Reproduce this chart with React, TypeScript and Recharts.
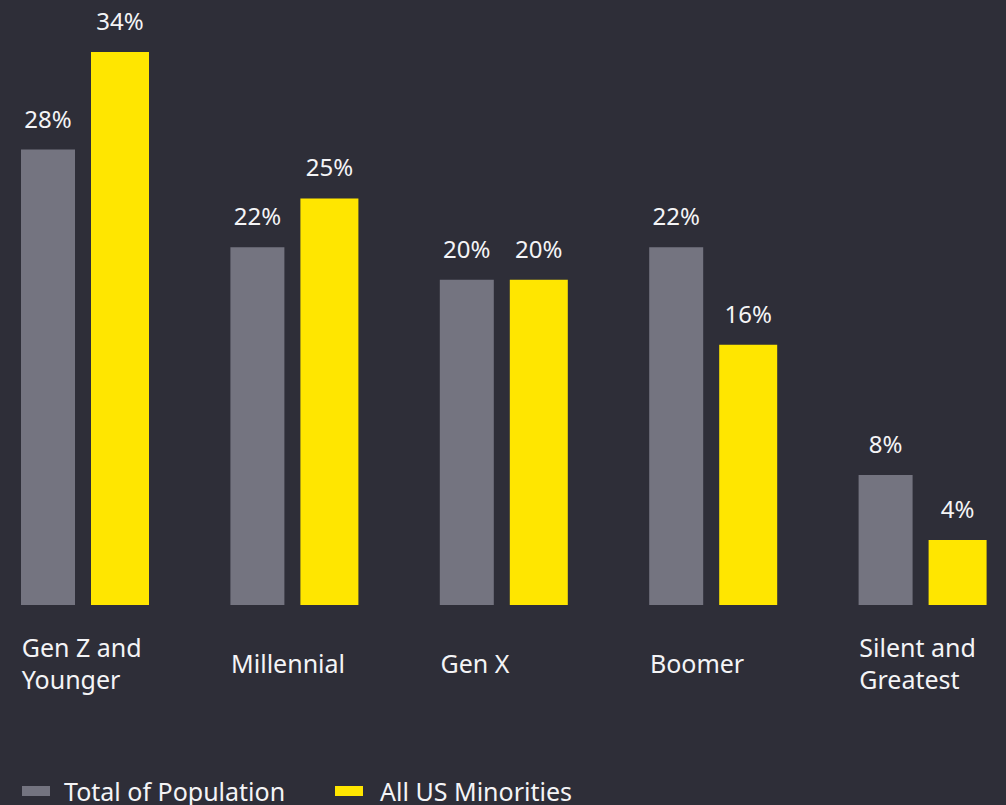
import { BarChart, Bar, XAxis, YAxis, Legend, LabelList } from 'recharts';

const categories = ['Gen Z and\nYounger', 'Millennial', 'Gen X', 'Boomer', 'Silent and\nGreatest'];
const totalPopulation = [28, 22, 20, 22, 8];
const usMinorities = [34, 25, 20, 16, 4];

const seriesNames = ['Total of Population', 'All US Minorities'];
const colors = ['#747480', '#ffe600'];

const data = categories.map((name, i) => ({
  name,
  total: totalPopulation[i],
  minorities: usMinorities[i],
}));

const FONT = '"Noto Sans", "Open Sans", sans-serif';
const TEXT = '#f4f4f6';

// category labels are left-aligned with the gray bar, not centered
const CategoryTick = (props: any) => {
  const { x, y, payload } = props;
  const lines = String(payload.value).split('\n');
  const left = x - 64 + 1;
  const first = y + 68 - (lines.length - 1) * 16;
  return (
    <text x={left} y={first} fill={TEXT} fontSize={25} fontFamily={FONT} textAnchor="start">
      {lines.map((l, i) => (
        <tspan key={i} x={left} y={first + i * 32}>
          {l}
        </tspan>
      ))}
    </text>
  );
};

const ValueLabel = (props: any) => {
  const { x, y, width, value } = props;
  return (
    <text
      x={x + width / 2}
      y={y - 22}
      fill={TEXT}
      fontSize={24}
      fontFamily={FONT}
      textAnchor="middle"
    >
      {value}%
    </text>
  );
};

const LegendContent = () => (
  <div style={{ display: 'flex', alignItems: 'center', fontFamily: FONT, fontSize: 25, color: TEXT, whiteSpace: 'nowrap' }}>
    {seriesNames.map((n, i) => (
      <div key={n} style={{ display: 'flex', alignItems: 'center', marginRight: i === 0 ? 50 : 0 }}>
        <span style={{ display: 'inline-block', width: 28, height: 10, background: colors[i], marginRight: i === 0 ? 14 : 17 }} />
        <span>{n}</span>
      </div>
    ))}
  </div>
);

export default function App() {
  return (
    <div
      style={{
        position: 'absolute',
        left: 0,
        top: 0,
        width: 1006,
        height: 805,
        overflow: 'hidden',
        background: '#2e2e38',
      }}
    >
      <div style={{ position: 'absolute', left: -20, top: 0 }}>
        <BarChart
          width={1047}
          height={805}
          data={data}
          margin={{ top: 52, right: 0, bottom: 170, left: 0 }}
          barGap={16}
        >
          <XAxis
            dataKey="name"
            axisLine={false}
            tickLine={false}
            tickSize={0}
            tickMargin={0}
            height={30}
            interval={0}
            tick={<CategoryTick />}
          />
          <YAxis hide domain={[0, 34]} />
          <Legend
            verticalAlign="middle"
            align="center"
            content={<LegendContent />}
            wrapperStyle={{ position: 'absolute', left: 42, top: 774, width: 'auto' }}
          />
          <Bar dataKey="total" name={seriesNames[0]} fill={colors[0]} barSize={54} isAnimationActive={false}>
            <LabelList dataKey="total" content={<ValueLabel />} />
          </Bar>
          <Bar dataKey="minorities" name={seriesNames[1]} fill={colors[1]} barSize={58} isAnimationActive={false}>
            <LabelList dataKey="minorities" content={<ValueLabel />} />
          </Bar>
        </BarChart>
      </div>
    </div>
  );
}
